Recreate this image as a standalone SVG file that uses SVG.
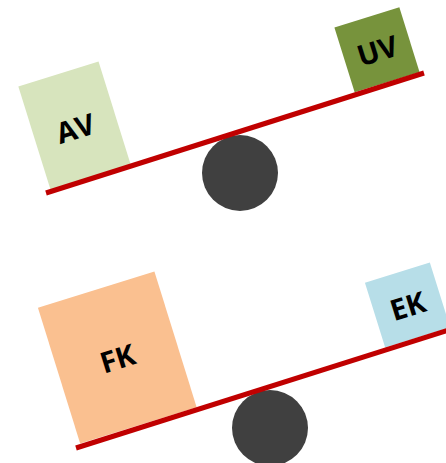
<svg xmlns="http://www.w3.org/2000/svg" width="446" height="463" viewBox="0 0 446 463">
  <style>
    .lbl { font-family: "Open Sans", "Liberation Sans", sans-serif; font-weight: bold; font-size: 29px; fill: #000; text-anchor: middle; dominant-baseline: central; }
    .beam { stroke: #C00000; stroke-width: 5; fill: none; }
    .pivot { fill: #404040; }
  </style>
  <rect width="446" height="463" fill="#ffffff"/>

  <!-- Upper seesaw -->
  <g id="AV" transform="translate(74.5,125.5) rotate(-17.3)">
    <rect x="-42" y="-54" width="84" height="108" fill="#D7E4BD"/>
    <text class="lbl" x="0" y="2">AV</text>
  </g>
  <g id="UV" transform="translate(377,49.8) rotate(-17.3)">
    <rect x="-34" y="-34" width="68" height="68" fill="#77933C"/>
    <text class="lbl" x="0" y="0">UV</text>
  </g>
  <g id="pivot-top">
    <circle class="pivot" cx="240" cy="173" r="38"/>
  </g>

  <!-- Lower seesaw -->
  <g id="FK" transform="translate(117.3,357.5) rotate(-17.3)">
    <rect x="-61" y="-71" width="122" height="142" fill="#FAC090"/>
    <text class="lbl" x="0" y="0">FK</text>
  </g>
  <g id="EK" transform="translate(407.5,305) rotate(-17.3)">
    <rect x="-34" y="-34" width="68" height="68" fill="#B7DEE8"/>
    <text class="lbl" x="0" y="0">EK</text>
  </g>
  <g id="pivot-bottom">
    <circle class="pivot" cx="270" cy="428" r="38"/>
  </g>

  <!-- Beams -->
  <g id="connectors">
    <line class="beam" x1="46" y1="193" x2="424" y2="73"/>
    <line class="beam" x1="76" y1="448" x2="452" y2="329"/>
  </g>
</svg>
